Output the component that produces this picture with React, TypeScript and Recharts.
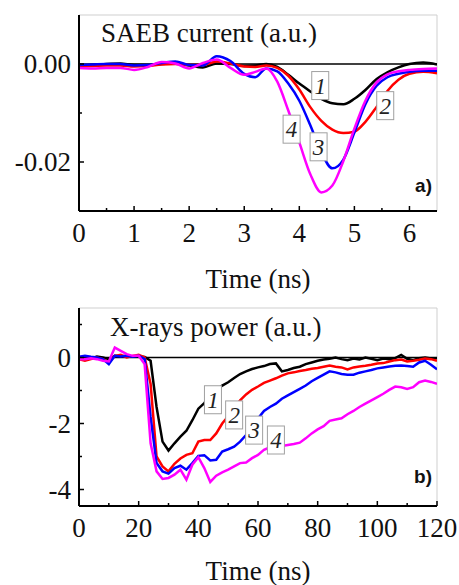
import { LineChart, Line, XAxis, YAxis, ReferenceLine, ReferenceDot } from "recharts";

// panel a) SAEB current
const tA = [0, 0.25, 0.5, 0.75, 1, 1.25, 1.5, 1.75, 2, 2.25, 2.5, 2.75, 3, 3.2, 3.4, 3.6, 3.8, 4, 4.2, 4.4, 4.6, 4.8, 5, 5.2, 5.4, 5.6, 5.8, 6, 6.25, 6.5];
const a1 = [-0.0003, -0.0002, 0.0, 0.0001, -0.0002, -0.0002, 0.0, 0.0001, -0.0003, -0.0007, 0.0001, 0.0, -0.0004, -0.0003, 0.0, -0.0006, -0.0022, -0.004, -0.0056, -0.0071, -0.008, -0.0082, -0.0071, -0.0053, -0.0031, -0.0017, -0.0007, 0.0, 0.0003, -0.0001];
const a2 = [-0.0005, -0.0004, -0.0003, -0.0003, -0.0005, -0.0004, -0.0001, 0.0, -0.0002, -0.0002, 0.0005, 0.0001, -0.0005, -0.0006, -0.0003, -0.0008, -0.0024, -0.0052, -0.0088, -0.0116, -0.0134, -0.0141, -0.0138, -0.0118, -0.0088, -0.0055, -0.0032, -0.002, -0.0016, -0.0019];
const a3 = [-0.0002, -0.0001, 0.0, 0.0, -0.0003, -0.0002, 0.0002, 0.0005, -0.0002, -0.0003, 0.0016, 0.0006, -0.002, -0.0027, -0.0009, -0.0015, -0.004, -0.0075, -0.0125, -0.018, -0.0213, -0.0195, -0.014, -0.0082, -0.0045, -0.0027, -0.002, -0.0016, -0.0014, -0.0014];
const a4 = [-0.0008, -0.0009, -0.0008, -0.0008, -0.0012, -0.0006, 0.0004, 0.0001, -0.0009, 0.0002, 0.0009, -0.0008, -0.0022, -0.0016, -0.0009, -0.0036, -0.0095, -0.016, -0.0225, -0.0262, -0.0248, -0.0198, -0.0132, -0.0075, -0.0038, -0.0021, -0.0015, -0.0012, -0.001, -0.0009];
const labelAx = [4.38, 5.56, 4.35, 3.86];
const labelAy = [-0.0044, -0.0085, -0.0169, -0.0133];

// panel b) X-rays power
const tB = [0, 2, 4, 6, 8, 10, 12, 14, 16, 18, 20, 22, 24, 26, 28, 30, 32, 34, 36, 38, 40, 42, 44, 46, 48, 50, 52, 54, 56, 58, 60, 62, 64, 66, 68, 70, 72, 74, 76, 78, 80, 82, 84, 86, 88, 90, 92, 94, 96, 98, 100, 102, 104, 106, 108, 110, 112, 114, 116, 118, 120];
const b1 = [
  0, 0.02, -0.03, 0.03, 0, -0.05, 0.05, 0.03, 0.05, 0.02,
  0.04, 0.02, -0.1, -1.5, -2.55, -2.82, -2.6, -2.4, -2.22, -1.9,
  -1.55, -1.38, -1.15, -1.0, -0.85, -0.75, -0.62, -0.5, -0.42, -0.35,
  -0.3, -0.26, -0.2, -0.18, -0.42, -0.38, -0.32, -0.28, -0.2, -0.15,
  -0.1, -0.06, -0.04, 0, -0.05, -0.08, -0.03, -0.06, 0, -0.04,
  -0.08, -0.03, -0.05, -0.02, 0.08, -0.04, -0.08, -0.02, 0, -0.03,
  -0.02,
];
const b2 = [
  -0.05, -0.1, -0.05, 0, -0.05, -0.15, 0.05, 0.08, 0, 0.05,
  0.08, 0, -0.8, -3.0, -3.3, -3.45, -3.22, -3.06, -2.95, -2.9,
  -2.55, -2.5, -2.5, -2.3, -2.0, -1.78, -1.52, -1.3, -1.12, -0.98,
  -0.88, -0.77, -0.7, -0.63, -0.55, -0.48, -0.45, -0.41, -0.38, -0.34,
  -0.32, -0.28, -0.24, -0.28, -0.3, -0.36, -0.3, -0.27, -0.25, -0.22,
  -0.18, -0.17, -0.12, -0.08, -0.06, -0.12, -0.1, -0.07, -0.03, -0.05,
  -0.1,
];
const b3 = [
  0.02, 0.05, 0.02, 0, -0.05, -0.2, 0.05, 0.03, 0.05, 0.02,
  0.05, -0.05, -1.8, -3.2, -3.45, -3.52, -3.35, -3.28, -3.4, -3.2,
  -2.98, -2.96, -3.12, -3.1, -2.85, -2.78, -2.7, -2.55, -2.35, -2.12,
  -1.85, -1.62, -1.5, -1.4, -1.25, -1.15, -1.05, -0.95, -0.85, -0.72,
  -0.62, -0.52, -0.42, -0.45, -0.5, -0.52, -0.52, -0.46, -0.42, -0.38,
  -0.33, -0.3, -0.27, -0.25, -0.24, -0.26, -0.28, -0.15, -0.1, -0.22,
  -0.36,
];
const b4 = [
  -0.05, -0.05, -0.02, -0.05, -0.1, -0.12, 0.3, 0.2, 0.1, 0.05,
  0.05, -0.2, -2.6, -3.45, -3.68, -3.65, -3.55, -3.4, -3.7, -3.25,
  -3.02, -3.35, -3.77, -3.58, -3.48, -3.4, -3.3, -3.2, -3.18, -3.05,
  -2.95, -2.8, -2.72, -2.7, -2.68, -2.65, -2.62, -2.58, -2.45, -2.3,
  -2.18, -2.08, -1.92, -1.88, -1.84, -1.72, -1.62, -1.5, -1.4, -1.3,
  -1.2, -1.1, -0.98, -0.88, -0.9, -0.95, -0.9, -0.75, -0.7, -0.74,
  -0.8,
];
const labelBx = [44.9, 52.0, 58.7, 66.0];
const labelBy = [-1.28, -1.74, -2.2, -2.5];

const curveNames = ["1", "2", "3", "4"];
const colors = ["#000000", "#ff0000", "#0000ff", "#ff00ff"];

const xTicksA = [0, 0.5, 1, 1.5, 2, 2.5, 3, 3.5, 4, 4.5, 5, 5.5, 6];
const xMajorA = [0, 1, 2, 3, 4, 5, 6];
const yTicksA = [-0.02, -0.01, 0];
const yMajorA = [-0.02, 0];
const xTicksB = [0, 10, 20, 30, 40, 50, 60, 70, 80, 90, 100, 110, 120];
const xMajorB = [0, 20, 40, 60, 80, 100, 120];
const yTicksB = [-4, -3, -2, -1, 0, 1];
const yMajorB = [-4, -2, 0];

const SERIF = "'Liberation Serif', 'Times New Roman', serif";
const SANS = "'Liberation Sans', Arial, sans-serif";
const serifText = { fontFamily: SERIF, fontSize: 27 };

function toRows(t: number[], v: number[]) {
  return t.map((x, i) => ({ t: x, v: v[i] }));
}

const makeXTick = (major: number[]) => (props: any) => {
  const { x, y, payload } = props;
  const isMajor = major.includes(payload.value);
  return (
    <g>
      <line x1={x} x2={x} y1={y} y2={y - (isMajor ? 5 : 3)} stroke="#000" strokeWidth={1.5} />
      {isMajor && (
        <text x={x} y={y + 31} textAnchor="middle" style={serifText} fill="#111">
          {payload.value}
        </text>
      )}
    </g>
  );
};

const makeYTick = (major: number[], fmt: (v: number) => string) => (props: any) => {
  const { x, y, payload } = props;
  const isMajor = major.includes(payload.value);
  return (
    <g>
      <line x1={x} x2={x + (isMajor ? 5 : 3)} y1={y} y2={y} stroke="#000" strokeWidth={1.5} />
      {isMajor && (
        <text x={x - 8} y={y + 9} textAnchor="end" style={serifText} fill="#111">
          {fmt(payload.value)}
        </text>
      )}
    </g>
  );
};

const labelBox = (text: string) => (props: any) => {
  const { cx, cy } = props;
  return (
    <g>
      <rect x={cx - 8.5} y={cy - 14} width={17} height={28} fill="#fff" stroke="#a0a0a0" strokeWidth={1} />
      <text x={cx} y={cy + 8} textAnchor="middle" style={{ fontFamily: SERIF, fontStyle: "italic", fontSize: 23 }} fill="#222">
        {text}
      </text>
    </g>
  );
};

const axisStroke = { stroke: "#000", strokeWidth: 2 };

export default function App() {
  const seriesA = [a1, a2, a3, a4];
  const seriesB = [b1, b2, b3, b4];
  return (
    <div style={{ position: "absolute", left: 0, top: 0, width: 459, height: 585, background: "#fff" }}>
      <div style={{ position: "absolute", left: 0, top: 0 }}>
        <LineChart width={459} height={290} margin={{ top: 15, right: 22, left: 0, bottom: 0 }}>
          <XAxis
            type="number"
            dataKey="t"
            domain={[0, 6.5]}
            ticks={xTicksA}
            interval={0}
            tickSize={0}
            tickMargin={0}
            height={79}
            axisLine={axisStroke}
            tick={makeXTick(xMajorA)}
            allowDataOverflow
          />
          <YAxis
            type="number"
            domain={[-0.03, 0.01]}
            ticks={yTicksA}
            interval={0}
            tickSize={0}
            tickMargin={0}
            width={79}
            axisLine={axisStroke}
            tick={makeYTick(yMajorA, (v) => v.toFixed(2))}
            allowDataOverflow
          />
          <ReferenceLine y={0.01} stroke="#cfcfcf" strokeWidth={1} />
          <ReferenceLine x={6.5} stroke="#cfcfcf" strokeWidth={1} />
          <ReferenceLine y={0} stroke="#000" strokeWidth={1.5} />
          {seriesA.map((s, i) => (
            <Line
              key={curveNames[i]}
              data={toRows(tA, s)}
              dataKey="v"
              type="monotone"
              stroke={colors[i]}
              strokeWidth={2.5}
              dot={false}
              isAnimationActive={false}
            />
          ))}
          {curveNames.map((n, i) => (
            <ReferenceDot key={"la" + n} x={labelAx[i]} y={labelAy[i]} r={0} shape={labelBox(n)} />
          ))}
        </LineChart>
      </div>
      <div style={{ position: "absolute", left: 0, top: 290 }}>
        <LineChart width={459} height={295} margin={{ top: 18, right: 22, left: 0, bottom: 0 }}>
          <XAxis
            type="number"
            dataKey="t"
            domain={[0, 120]}
            ticks={xTicksB}
            interval={0}
            tickSize={0}
            tickMargin={0}
            height={79}
            axisLine={axisStroke}
            tick={makeXTick(xMajorB)}
            allowDataOverflow
          />
          <YAxis
            type="number"
            domain={[-4.5, 1.5]}
            ticks={yTicksB}
            interval={0}
            tickSize={0}
            tickMargin={0}
            width={79}
            axisLine={axisStroke}
            tick={makeYTick(yMajorB, (v) => String(v))}
            allowDataOverflow
          />
          <ReferenceLine y={1.5} stroke="#cfcfcf" strokeWidth={1} />
          <ReferenceLine x={120} stroke="#cfcfcf" strokeWidth={1} />
          <ReferenceLine y={0} stroke="#000" strokeWidth={1.5} />
          {seriesB.map((s, i) => (
            <Line
              key={curveNames[i]}
              data={toRows(tB, s)}
              dataKey="v"
              type="linear"
              stroke={colors[i]}
              strokeWidth={2.5}
              dot={false}
              isAnimationActive={false}
            />
          ))}
          {curveNames.map((n, i) => (
            <ReferenceDot key={"lb" + n} x={labelBx[i]} y={labelBy[i]} r={0} shape={labelBox(n)} />
          ))}
        </LineChart>
      </div>
      <svg width={459} height={585} style={{ position: "absolute", left: 0, top: 0, pointerEvents: "none" }}>
        <text x={101} y={42} style={serifText} fill="#111">SAEB current (a.u.)</text>
        <text x={432} y={192} textAnchor="end" style={{ fontFamily: SANS, fontWeight: "bold", fontSize: 19 }} fill="#111">a)</text>
        <text x={258} y={288} textAnchor="middle" style={serifText} fill="#111">Time (ns)</text>
        <text x={110} y={336} style={serifText} fill="#111">X-rays power (a.u.)</text>
        <text x={432} y={483} textAnchor="end" style={{ fontFamily: SANS, fontWeight: "bold", fontSize: 19 }} fill="#111">b)</text>
        <text x={258} y={580} textAnchor="middle" style={serifText} fill="#111">Time (ns)</text>
      </svg>
    </div>
  );
}
